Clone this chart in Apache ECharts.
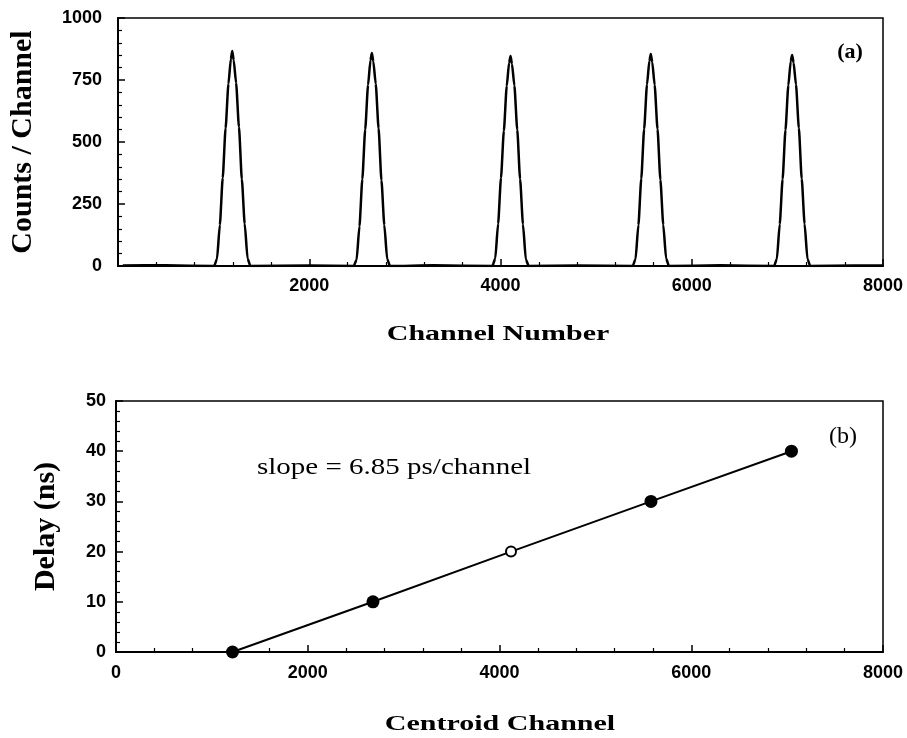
<!DOCTYPE html>
<html>
<head>
<meta charset="utf-8">
<script src="https://cdn.jsdelivr.net/npm/echarts@6/dist/echarts.min.js"></script>
<style>
  html, body { margin: 0; padding: 0; background: #fff; }
  #chart { width: 907px; height: 738px; }
</style>
</head>
<body>
<div id="chart"></div>
<script>
var spectrumChannels = [
  50, 500,
  1005, 1035, 1065, 1095, 1125, 1155, 1180, 1195, 1210, 1235, 1265, 1295, 1325, 1355, 1385,
  2000,
  2465, 2495, 2525, 2555, 2585, 2615, 2640, 2655, 2670, 2695, 2725, 2755, 2785, 2815, 2845,
  3300,
  3915, 3945, 3975, 4005, 4035, 4065, 4090, 4105, 4120, 4145, 4175, 4205, 4235, 4265, 4295,
  4800,
  5382, 5412, 5442, 5472, 5502, 5532, 5557, 5572, 5587, 5612, 5642, 5672, 5702, 5732, 5762,
  6300,
  6860, 6890, 6920, 6950, 6980, 7010, 7035, 7050, 7065, 7090, 7120, 7150, 7180, 7210, 7240,
  7700, 7990
];
var spectrumCounts = [
  2, 3,
  0, 28, 165, 355, 555, 735, 835, 867, 830, 738, 560, 350, 170, 30, 0,
  2,
  0, 25, 160, 350, 550, 730, 830, 859, 825, 735, 555, 345, 165, 28, 0,
  3,
  0, 30, 170, 355, 545, 725, 820, 847, 815, 728, 550, 350, 168, 26, 0,
  2,
  0, 27, 165, 352, 552, 732, 828, 855, 822, 730, 552, 348, 166, 30, 0,
  3,
  0, 28, 168, 350, 548, 728, 826, 851, 820, 732, 556, 352, 170, 28, 0,
  2, 2
];

// (b) calibration: centroid channel vs delay
var centroidChannels = [1215, 2680, 4120, 5580, 7045];
var delays = [0, 10, 20, 30, 40];
var hollowIndex = 2;

var xTicks = { min: 0, max: 8000, interval: 2000 };
var countTicks = { min: 0, max: 1000, interval: 250 };
var delayTicks = { min: 0, max: 50, interval: 10 };

var sans = 'Liberation Sans';
var serif = 'Liberation Serif';

var spectrumData = spectrumChannels.map(function (c, i) { return [c, spectrumCounts[i]]; });
var calibData = centroidChannels.map(function (c, i) {
  var item = { value: [c, delays[i]] };
  if (i === hollowIndex) {
    item.symbolSize = 10;
    item.itemStyle = { color: '#fff', borderColor: '#000', borderWidth: 2 };
  }
  return item;
});

function plain(v) { return String(v); }

function xAxisCfg(grid, showMin, margin) {
  return {
    type: 'value', gridIndex: grid,
    min: xTicks.min, max: xTicks.max, interval: xTicks.interval,
    axisLine: { lineStyle: { color: '#000', width: 2 } },
    axisTick: { inside: true, length: 7, lineStyle: { color: '#000', width: 1.5 } },
    minorTick: { show: true, splitNumber: 5, length: 4, lineStyle: { color: '#000', width: 1.2 } },
    splitLine: { show: false },
    axisLabel: { showMinLabel: showMin, showMaxLabel: true, margin: margin, color: '#000',
      fontFamily: sans, fontWeight: 'bold', fontSize: 18, formatter: plain }
  };
}

function yAxisCfg(grid, t, name, gap, margin) {
  return {
    type: 'value', gridIndex: grid,
    min: t.min, max: t.max, interval: t.interval,
    name: name, nameLocation: 'middle', nameGap: gap,
    nameTextStyle: { fontFamily: serif, fontWeight: 'bold', fontSize: 30, color: '#000' },
    axisLine: { show: true, lineStyle: { color: '#000', width: 2 } },
    axisTick: { inside: true, length: 7, lineStyle: { color: '#000', width: 1.5 } },
    minorTick: { show: true, splitNumber: 5, length: 4, lineStyle: { color: '#000', width: 1.2 } },
    splitLine: { show: false },
    axisLabel: { margin: margin, color: '#000', fontFamily: sans, fontWeight: 'bold', fontSize: 18, formatter: plain }
  };
}

var myChart = echarts.init(document.getElementById('chart'));
var option = {
  backgroundColor: '#fff',
  animation: false,
  grid: [
    { left: 116, right: 24, top: 18, height: 248, show: true, borderColor: '#000', borderWidth: 1.5 },
    { left: 116, right: 24, top: 401, height: 251, show: true, borderColor: '#000', borderWidth: 1.5 }
  ],
  xAxis: [xAxisCfg(0, false, 11), xAxisCfg(1, true, 12)],
  yAxis: [
    yAxisCfg(0, countTicks, 'Counts / Channel', 80, 16),
    yAxisCfg(1, delayTicks, 'Delay (ns)', 55, 10)
  ],
  series: [
    {
      type: 'line', xAxisIndex: 0, yAxisIndex: 0,
      data: spectrumData, showSymbol: false,
      smooth: 0.2, smoothMonotone: 'x',
      lineStyle: { color: '#000', width: 2.5 }
    },
    {
      type: 'line', xAxisIndex: 1, yAxisIndex: 1,
      data: calibData, symbol: 'circle', symbolSize: 13,
      itemStyle: { color: '#000' },
      lineStyle: { color: '#000', width: 2 }
    }
  ],
  graphic: [
    { type: 'text', x: 498, y: 334, scaleY: 0.72,
      style: { text: 'Channel Number', font: 'bold 30px "Liberation Serif"', fill: '#000', align: 'center', verticalAlign: 'middle' } },
    { type: 'text', x: 500, y: 724, scaleY: 0.72,
      style: { text: 'Centroid Channel', font: 'bold 30px "Liberation Serif"', fill: '#000', align: 'center', verticalAlign: 'middle' } },
    { type: 'text', x: 257, y: 468, scaleY: 0.8,
      style: { text: 'slope = 6.85 ps/channel', font: '29px "Liberation Serif"', fill: '#000', align: 'left', verticalAlign: 'middle' } },
    { type: 'text', x: 850, y: 52,
      style: { text: '(a)', font: 'bold 22px "Liberation Serif"', fill: '#000', align: 'center', verticalAlign: 'middle' } },
    { type: 'text', x: 843, y: 437,
      style: { text: '(b)', font: '24px "Liberation Serif"', fill: '#000', align: 'center', verticalAlign: 'middle' } }
  ]
};
myChart.setOption(option);
</script>
</body>
</html>
